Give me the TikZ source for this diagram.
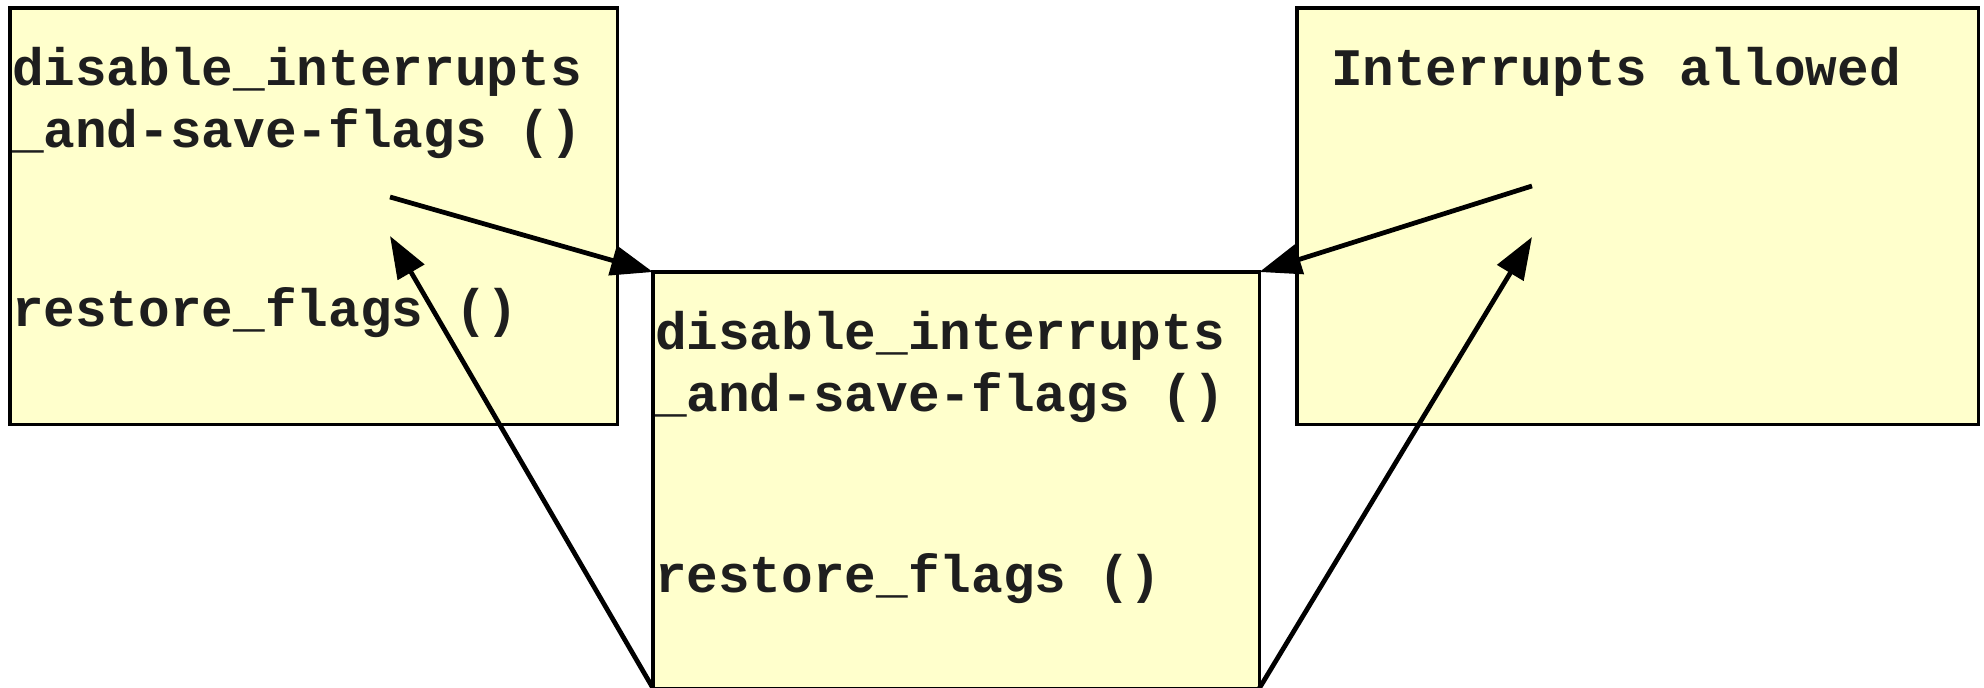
\documentclass[tikz,border=0pt]{standalone}
\usepackage{fontspec}
\setmonofont{Liberation Mono}
\usetikzlibrary{arrows.meta}
\definecolor{boxfill}{HTML}{FFFFCC}
\definecolor{textcol}{HTML}{1E1E1E}
\tikzset{
  panel/.style={draw=black, line width=0.9pt, fill=boxfill, rectangle, inner sep=0pt, outer sep=0pt, anchor=north west, minimum height=4.16cm},
  txt/.style={anchor=base west, inner sep=0pt, outer sep=0pt, text=textcol, font=\ttfamily\bfseries\fontsize{15}{18}\selectfont},
  arr/.style={draw=black, line width=1.35pt, -{Triangle[length=0.42cm, width=0.30cm]}}
}
\begin{document}
\begin{tikzpicture}[x=0.01cm, y=-0.01cm]
\useasboundingbox (0,0) rectangle (1984,688);
% boxes
\node[panel, minimum width=6.07cm] (left) at (10,8) {};
\node[panel, minimum width=6.06cm] (mid) at (653,272) {};
\node[panel, minimum width=6.81cm] (right) at (1297,8) {};
% texts
\node[txt] (l1) at (12,86) {disable\_interrupts};
\node[txt] (l2) at (12,148) {\_and-save-flags ()};
\node[txt] (l3) at (12,327) {restore\_flags ()};
\node[txt] (m1) at (655,350) {disable\_interrupts};
\node[txt] (m2) at (655,411) {\_and-save-flags ()};
\node[txt] (m3) at (655,592) {restore\_flags ()};
\node[txt] (r1) at (1331,86) {Interrupts allowed};
% connector ends
\coordinate (la) at (390,197);
\coordinate (lb) at (390,236);
\coordinate (ra) at (1532,186);
\coordinate (rb) at (1532,237);
% arrows
\draw[arr] (la) -- (mid.north west);
\draw[arr] (mid.south west) -- (lb);
\draw[arr] (ra) -- (mid.north east);
\draw[arr] (mid.south east) -- (rb);
\end{tikzpicture}
\end{document}
